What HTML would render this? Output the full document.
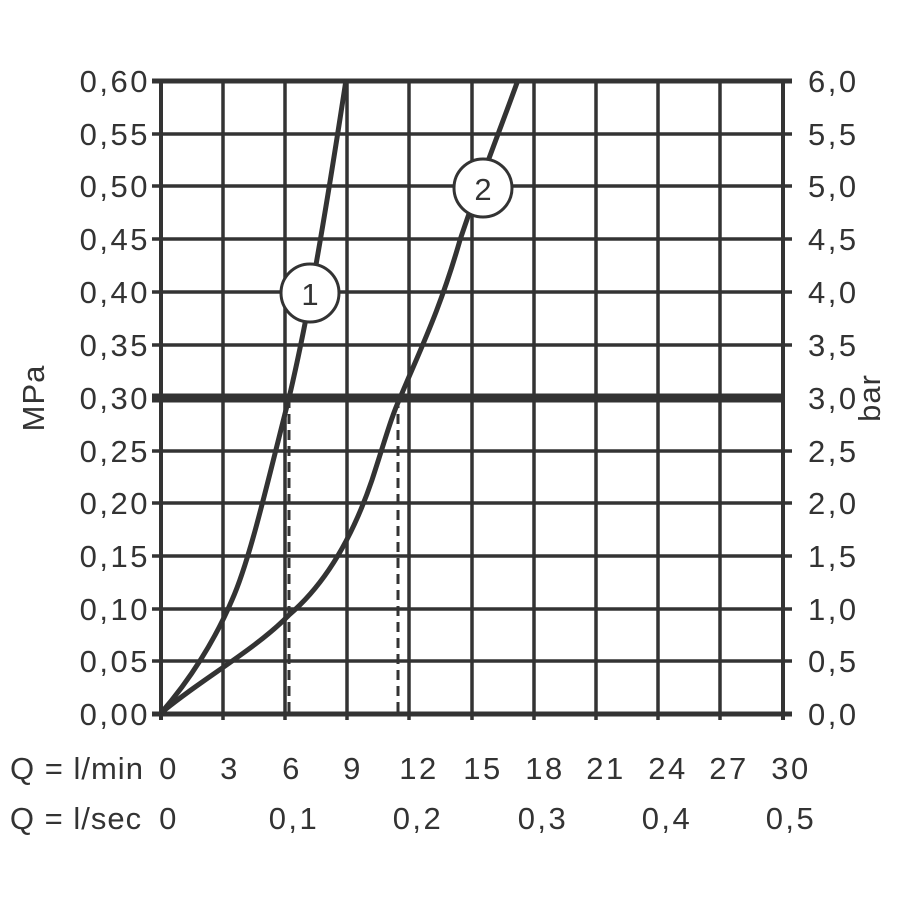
<!DOCTYPE html>
<html><head><meta charset="utf-8"><style>
body{margin:0;background:#fff}
text{font-family:"Liberation Sans",sans-serif;fill:#333;font-size:31px;letter-spacing:2.5px}
</style></head><body>
<svg width="900" height="900" viewBox="0 0 900 900" xmlns="http://www.w3.org/2000/svg">
<g stroke="#333" stroke-width="3.5" fill="none">
<path d="M223 81V720M285 81V720M347 81V720M409 81V720M472 81V720M534 81V720M596 81V720M658 81V720M720 81V720"/>
<path d="M152 134H792M152 186H792M152 239H792M152 292H792M152 345H792M152 451H792M152 503H792M152 556H792M152 609H792M152 661H792"/>
<path d="M161 81V720M783 81V720" stroke-width="4"/>
<path d="M152 81H792M152 714H792" stroke-width="5"/>
<path d="M152 398H783" stroke-width="9"/>
<path d="M289 398V714M398 398V714" stroke-width="3" stroke-dasharray="10 6"/>
<path d="M161 713 C190 680 215 640 232 600 C250 560 268 480 289 398 C305 330 320 250 346 80" stroke-width="5"/>
<path d="M161 713 C200 680 255 650 289 615 C330 580 355 530 372 480 C385 440 392 415 400 398 C420 350 440 310 460 240 C480 180 500 130 518 80" stroke-width="5"/>
</g>
<circle cx="310" cy="293" r="29" fill="#fff" stroke="#333" stroke-width="3"/>
<circle cx="483" cy="188" r="29" fill="#fff" stroke="#333" stroke-width="3"/>
<text x="310" y="305" text-anchor="middle" style="letter-spacing:0">1</text>
<text x="483" y="200" text-anchor="middle" style="letter-spacing:0">2</text>
<g text-anchor="end">
<text x="150" y="92">0,60</text><text x="150" y="145">0,55</text><text x="150" y="197">0,50</text><text x="150" y="250">0,45</text><text x="150" y="303">0,40</text><text x="150" y="356">0,35</text><text x="150" y="409">0,30</text><text x="150" y="462">0,25</text><text x="150" y="514">0,20</text><text x="150" y="567">0,15</text><text x="150" y="620">0,10</text><text x="150" y="672">0,05</text><text x="150" y="725">0,00</text>
</g>
<g>
<text x="808" y="92">6,0</text><text x="808" y="145">5,5</text><text x="808" y="197">5,0</text><text x="808" y="250">4,5</text><text x="808" y="303">4,0</text><text x="808" y="356">3,5</text><text x="808" y="409">3,0</text><text x="808" y="462">2,5</text><text x="808" y="514">2,0</text><text x="808" y="567">1,5</text><text x="808" y="620">1,0</text><text x="808" y="672">0,5</text><text x="808" y="725">0,0</text>
</g>
<text transform="translate(44,398) rotate(-90)" text-anchor="middle" style="letter-spacing:1px" font-size="27">MPa</text>
<text transform="translate(880,398) rotate(-90)" text-anchor="middle" style="letter-spacing:1px" font-size="27">bar</text>
<g text-anchor="middle">
<text x="77" y="779" style="letter-spacing:1px">Q = l/min</text>
<text x="169" y="779">0</text><text x="230" y="779">3</text><text x="292" y="779">6</text><text x="353" y="779">9</text><text x="419" y="779">12</text><text x="483" y="779">15</text><text x="545" y="779">18</text><text x="606" y="779">21</text><text x="668" y="779">24</text><text x="729" y="779">27</text><text x="791" y="779">30</text>
<text x="76" y="829" style="letter-spacing:1px">Q = l/sec</text>
<text x="169" y="829">0</text><text x="294" y="829">0,1</text><text x="418" y="829">0,2</text><text x="543" y="829">0,3</text><text x="667" y="829">0,4</text><text x="791" y="829">0,5</text>
</g>
</svg>
</body></html>
